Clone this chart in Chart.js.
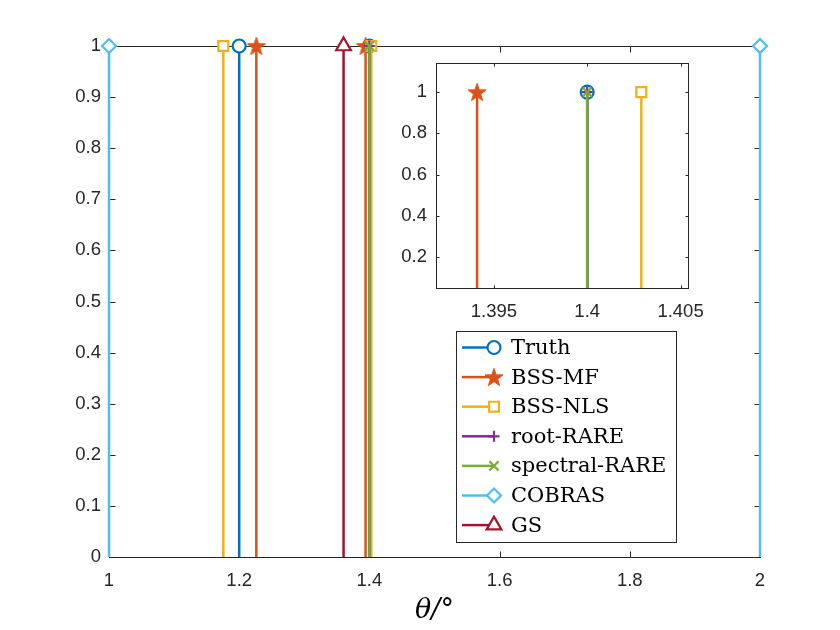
<!DOCTYPE html>
<html>
<head>
<meta charset="utf-8">
<script src="https://cdn.jsdelivr.net/npm/chart.js@4.4.1/dist/chart.umd.min.js"></script>
<style>
  html, body { margin: 0; padding: 0; background: #ffffff; }
  #wrap { position: relative; width: 840px; height: 630px; }
  #mainChart { position: absolute; left: 0; top: 0; }
  #insetChart { position: absolute; left: 370px; top: 40px; }
</style>
</head>
<body>
<div id="wrap">
  <canvas id="mainChart" width="840" height="630"></canvas>
  <canvas id="insetChart" width="340" height="300"></canvas>
</div>
<script>
// stem positions (theta, degrees) and heights, one pair per method
const seriesNames = ['Truth', 'BSS-MF', 'BSS-NLS', 'root-RARE', 'spectral-RARE', 'COBRAS', 'GS'];
const truthTheta = [1.2, 1.4];
const truthAmp = [1, 1];
const bssMfTheta = [1.2263, 1.3941];
const bssMfAmp = [1, 1];
const bssNlsTheta = [1.1756, 1.4029];
const bssNlsAmp = [1, 1];
const rootRareTheta = [1.4];
const rootRareAmp = [1];
const spectralRareTheta = [1.4];
const spectralRareAmp = [1];
const cobrasTheta = [1, 2];
const cobrasAmp = [1, 1];
const gsTheta = [1.3603];
const gsAmp = [1];

// tick labels
const mainXTicks = [1, 1.2, 1.4, 1.6, 1.8, 2];
const mainYTicks = [0, 0.1, 0.2, 0.3, 0.4, 0.5, 0.6, 0.7, 0.8, 0.9, 1];
const insetXTicks = [1.395, 1.4, 1.405];
const insetYTicks = [0.2, 0.4, 0.6, 0.8, 1];

const thetaList = [truthTheta, bssMfTheta, bssNlsTheta, rootRareTheta, spectralRareTheta, cobrasTheta, gsTheta];
const ampList = [truthAmp, bssMfAmp, bssNlsAmp, rootRareAmp, spectralRareAmp, cobrasAmp, gsAmp];

// filled pentagram marker for BSS-MF
function makeStar(color) {
    const c = document.createElement('canvas');
    c.width = 22; c.height = 22;
    const g = c.getContext('2d');
    const R = 9.5, r = 3.8;
    g.beginPath();
    for (let i = 0; i < 10; i++) {
        const rad = (i % 2 === 0) ? R : r;
        const a = -Math.PI / 2 + i * Math.PI / 5;
        const px = 11 + rad * Math.cos(a), py = 11.8 + rad * Math.sin(a);
        if (i === 0) g.moveTo(px, py); else g.lineTo(px, py);
    }
    g.closePath();
    g.fillStyle = color;
    g.strokeStyle = color;
    g.lineWidth = 1;
    g.fill();
    g.stroke();
    return c;
}

const styles = [
    {color: '#0072BD', point: 'circle', radius: 6.5},
    {color: '#D95319', point: makeStar('#D95319'), radius: 9},
    {color: '#EDB120', point: 'rect', radius: 7},
    {color: '#7E2F8E', point: 'cross', radius: 5.5},
    {color: '#77AC30', point: 'crossRot', radius: 6.5},
    {color: '#4DBEEE', point: 'rectRot', radius: 7},
    {color: '#A2142F', point: 'triangle', radius: 8.5},
];

function stems(xs, hs) {
    const pts = [];
    xs.forEach((x, i) => {
        pts.push({x: x, y: 0}, {x: x, y: hs[i]}, {x: x, y: null});
    });
    return pts;
}

function buildDatasets(clip) {
    return seriesNames.map((name, i) => ({
        label: name,
        data: stems(thetaList[i], ampList[i]),
        showLine: true,
        spanGaps: false,
        borderColor: styles[i].color,
        borderWidth: 2.5,
        pointStyle: styles[i].point,
        pointBorderColor: styles[i].color,
        pointBackgroundColor: '#ffffff',
        pointBorderWidth: 2.2,
        pointRadius: ctx => (ctx.raw && ctx.raw.y > 0) ? styles[i].radius : 0,
        clip: clip,
        order: -i,
    }));
}

// box around the axes and MATLAB-like inward ticks
const boxTicks = {
    id: 'boxTicks',
    beforeDatasetsDraw(chart, args, opts) {
        const {ctx, chartArea: a} = chart;
        const len = opts.len || 6;
        const L = Math.round(a.left) + 0.5, R = Math.round(a.right) + 0.5;
        const T = Math.round(a.top) + 0.5, B = Math.round(a.bottom) + 0.5;
        ctx.save();
        ctx.strokeStyle = '#262626';
        ctx.lineWidth = 1;
        ctx.strokeRect(L, T, R - L, B - T);
        ctx.beginPath();
        chart.scales.x.ticks.forEach(t => {
            const px = Math.round(chart.scales.x.getPixelForValue(t.value)) + 0.5;
            ctx.moveTo(px, B); ctx.lineTo(px, B - len);
            ctx.moveTo(px, T); ctx.lineTo(px, T + len);
        });
        chart.scales.y.ticks.forEach(t => {
            const py = Math.round(chart.scales.y.getPixelForValue(t.value)) + 0.5;
            ctx.moveTo(L, py); ctx.lineTo(L + len, py);
            ctx.moveTo(R, py); ctx.lineTo(R - len, py);
        });
        ctx.stroke();
        ctx.restore();
    }
};

// boxed legend drawn inside the main axes
const boxLegend = {
    id: 'boxLegend',
    afterDraw(chart) {
        const ctx = chart.ctx;
        const left = 456.5, top = 331.5, w = 220, h = 211;
        ctx.save();
        ctx.fillStyle = '#ffffff';
        ctx.fillRect(left, top, w, h);
        ctx.strokeStyle = '#262626';
        ctx.lineWidth = 1;
        ctx.strokeRect(left, top, w, h);
        ctx.font = '21px "DejaVu Serif"';
        ctx.textBaseline = 'middle';
        ctx.textAlign = 'left';
        seriesNames.forEach((name, i) => {
            const y = 347.5 + i * 29.6;
            const s = styles[i];
            ctx.strokeStyle = s.color;
            ctx.lineWidth = 2.5;
            ctx.beginPath();
            ctx.moveTo(462, y); ctx.lineTo(494, y);
            ctx.stroke();
            ctx.lineWidth = 2.2;
            ctx.fillStyle = '#ffffff';
            Chart.helpers.drawPoint(ctx, {pointStyle: s.point, radius: s.radius, borderWidth: 2.2, rotation: 0}, 494, y);
            ctx.fillStyle = '#000000';
            ctx.fillText(name, 511, y + 1);
        });
        ctx.restore();
    }
};

const tickFont = {family: '"Liberation Sans", Arial, sans-serif', size: 18.5};

function noXPad(h) {
    return s => { s.height = h; s.paddingLeft = 0; s.paddingRight = 0; };
}
function noYPad(w) {
    return s => { s.width = w; s.paddingTop = 0; s.paddingBottom = 0; };
}

let MainChart = new Chart(
    document.getElementById('mainChart'), {
        type: 'scatter',
        data: { datasets: buildDatasets(false) },
        plugins: [boxTicks, boxLegend],
        options: {
            responsive: false,
            animation: false,
            events: [],
            layout: { padding: {left: 0, top: 46, right: 80, bottom: 0} },
            scales: {
                x: {
                    type: 'linear',
                    min: 1,
                    max: 2,
                    grid: { display: false, drawTicks: false },
                    border: { display: false },
                    afterBuildTicks: s => { s.ticks = mainXTicks.map(v => ({value: v})); },
                    afterFit: noXPad(73),
                    ticks: {
                        padding: 13,
                        color: '#262626',
                        font: tickFont,
                        maxRotation: 0,
                        callback: v => String(v),
                    },
                    title: {
                        display: true,
                        text: 'θ/°',
                        color: '#000000',
                        font: {family: '"DejaVu Serif"', size: 27, style: 'italic'},
                        padding: {top: 0, bottom: 3},
                    },
                },
                y: {
                    min: 0,
                    max: 1,
                    grid: { display: false, drawTicks: false },
                    border: { display: false },
                    afterBuildTicks: s => { s.ticks = mainYTicks.map(v => ({value: v})); },
                    afterFit: noYPad(109),
                    ticks: {
                        padding: 8,
                        color: '#262626',
                        font: tickFont,
                        callback: v => String(v),
                    },
                },
            },
            plugins: {
                legend: { display: false },
                tooltip: { enabled: false },
                boxTicks: { len: 6 },
            },
        },
    }
);

let InsetChart = new Chart(
    document.getElementById('insetChart'), {
        type: 'scatter',
        data: { datasets: buildDatasets(undefined) },
        plugins: [boxTicks],
        options: {
            responsive: false,
            animation: false,
            events: [],
            layout: { padding: {left: 0, top: 23, right: 22, bottom: 0} },
            scales: {
                x: {
                    type: 'linear',
                    min: 1.3919,
                    max: 1.4054,
                    grid: { display: false, drawTicks: false },
                    border: { display: false },
                    afterBuildTicks: s => { s.ticks = insetXTicks.map(v => ({value: v})); },
                    afterFit: noXPad(52),
                    ticks: {
                        padding: 13,
                        color: '#262626',
                        font: tickFont,
                        maxRotation: 0,
                        callback: v => String(v),
                    },
                },
                y: {
                    min: 0.05,
                    max: 1.141,
                    grid: { display: false, drawTicks: false },
                    border: { display: false },
                    afterBuildTicks: s => { s.ticks = insetYTicks.map(v => ({value: v})); },
                    afterFit: noYPad(66),
                    ticks: {
                        padding: 9,
                        color: '#262626',
                        font: tickFont,
                        callback: v => String(v),
                    },
                },
            },
            plugins: {
                legend: { display: false },
                tooltip: { enabled: false },
                boxTicks: { len: 3 },
            },
        },
    }
);
</script>
</body>
</html>
